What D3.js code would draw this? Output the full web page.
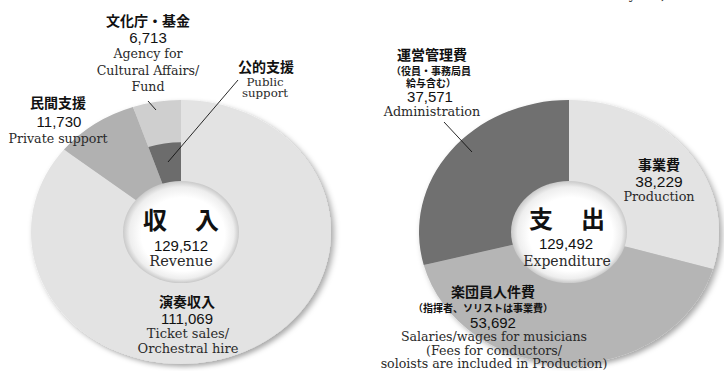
<!DOCTYPE html>
<html>
<head>
<meta charset="utf-8">
<script src="https://cdn.jsdelivr.net/npm/d3@7/dist/d3.min.js"></script>
<style>
  html, body { margin: 0; padding: 0; background: #fff; }
  svg { display: block; }
  .jp { font-family: "Noto Sans CJK JP", "Noto Sans", sans-serif; font-weight: 700; fill: #111; }
  .num { font-family: "Liberation Sans", Arial, sans-serif; fill: #111; }
  .en { font-family: "DejaVu Serif", "Liberation Serif", serif; fill: #2a2a2a; }
</style>
</head>
<body>
<svg id="chart" width="724" height="371"></svg>
<script>
// Revenue breakdown
const revenueCategories = ["演奏収入", "民間支援", "文化庁・基金"];
const revenueValues = [111069, 11730, 6713];
const revenueEnglish = [["Ticket sales/", "Orchestral hire"], ["Private support"], ["Agency for", "Cultural Affairs/", "Fund"]];

// Expenditure breakdown
const expenditureCategories = ["事業費", "楽団員人件費", "運営管理費"];
const expenditureValues = [38229, 53692, 37571];
const expenditureEnglish = [["Production"], ["Salaries/wages for musicians", "(Fees for conductors/", "soloists are included in Production)"], ["Administration"]];
const expenditureNotes = [[], ["（指揮者、ソリストは事業費）"], ["（役員・事務局員", "給与含む）"]];

const revenueColors = ["#e3e3e3", "#b1b1b1", "#cfcfcf"];
const expenditureColors = ["#e3e3e3", "#b5b5b5", "#6f6f6f"];
const publicSupportColor = "#6c6c6c";

const fmt = d3.format(",");
const svg = d3.select("#chart");
const defs = svg.append("defs");

const shadow = defs.append("filter").attr("id", "ringShadow")
  .attr("x", "-20%").attr("y", "-20%").attr("width", "140%").attr("height", "140%");
shadow.append("feDropShadow").attr("dx", 3).attr("dy", 3).attr("stdDeviation", 3)
  .attr("flood-color", "#000").attr("flood-opacity", 0.35);

const holeGrad = defs.append("radialGradient").attr("id", "holeGrad")
  .attr("cx", "50%").attr("cy", "50%").attr("r", "50%").attr("fx", "56%").attr("fy", "58%");
holeGrad.append("stop").attr("offset", "0%").attr("stop-color", "#ffffff");
holeGrad.append("stop").attr("offset", "72%").attr("stop-color", "#ffffff");
holeGrad.append("stop").attr("offset", "90%").attr("stop-color", "#eeeeee");
holeGrad.append("stop").attr("offset", "100%").attr("stop-color", "#c9c9c9");

const R = 150, r = 57, squash = 0.88;
const pie = d3.pie().sort(null).value(d => d);
const arc = d3.arc().innerRadius(r).outerRadius(R);

function donut(cx, cy, values, colors) {
  const g = svg.append("g").attr("transform", `translate(${cx},${cy}) scale(1,${squash})`);
  const arcs = pie(values);
  const ring = g.append("g").attr("filter", "url(#ringShadow)");
  ring.selectAll("path").data(arcs).join("path")
    .attr("d", arc).attr("fill", (d, i) => colors[i]);
  return { g, arcs };
}

function hole(g) {
  g.append("circle").attr("r", r + 1).attr("fill", "url(#holeGrad)");
}

function lines(x, y, arr, cls, size, lh) {
  const t = svg.append("text").attr("class", cls).attr("text-anchor", "middle")
    .attr("font-size", size);
  arr.forEach((s, i) => t.append("tspan").attr("x", x).attr("y", y + i * lh).text(s));
}

function leader(x1, y1, x2, y2) {
  svg.append("line").attr("x1", x1).attr("y1", y1).attr("x2", x2).attr("y2", y2)
    .attr("stroke", "#111").attr("stroke-width", 0.9);
}

// ---- Revenue donut ----
const left = donut(181, 232, revenueValues, revenueColors);
// public support shown as the inner part of the Agency/Fund slice
const fundArc = left.arcs[2];
left.g.append("path")
  .attr("d", d3.arc().innerRadius(r).outerRadius(102)(fundArc))
  .attr("fill", publicSupportColor);
hole(left.g);

// ---- Expenditure donut ----
const right = donut(569, 232, expenditureValues, expenditureColors);
hole(right.g);

// ---- Revenue labels ----
lines(148, 26, [revenueCategories[2]], "jp", 14, 0);
lines(148, 43, [fmt(revenueValues[2])], "num", 15, 0);
lines(148, 58, revenueEnglish[2], "en", 12.6, 16.5);
leader(148, 101, 156, 110);

lines(266, 72, ["公的支援"], "jp", 14, 0);
lines(265, 86, ["Public", "support"], "en", 11.8, 10.5);
leader(238, 80, 168, 162);

lines(58, 108, [revenueCategories[1]], "jp", 14, 0);
lines(59, 127, [fmt(revenueValues[1])], "num", 15, 0);
lines(58, 143, revenueEnglish[1], "en", 12.6, 0);

lines(187, 307, [revenueCategories[0]], "jp", 14, 0);
lines(187, 324, [fmt(revenueValues[0])], "num", 15, 0);
lines(188, 338, revenueEnglish[0], "en", 13, 15);

svg.append("text").attr("class", "jp").attr("x", 181).attr("y", 229)
  .attr("text-anchor", "middle").attr("font-size", 24).attr("letter-spacing", 28)
  .attr("dx", 14).text("収入");
lines(181, 251, [fmt(d3.sum(revenueValues))], "num", 15, 0);
lines(181, 266, ["Revenue"], "en", 14.5, 0);

// ---- Expenditure labels ----
lines(432, 60, [expenditureCategories[2]], "jp", 14, 0);
lines(431, 75, expenditureNotes[2], "jp", 10, 11.5);
lines(430, 102, [fmt(expenditureValues[2])], "num", 15, 0);
lines(432, 116, expenditureEnglish[2], "en", 12.8, 0);
leader(444, 122, 472, 152);

lines(659, 170, [expenditureCategories[0]], "jp", 14, 0);
lines(659, 187, [fmt(expenditureValues[0])], "num", 15.5, 0);
lines(659, 201, expenditureEnglish[0], "en", 12.8, 0);

lines(493, 297, [expenditureCategories[1]], "jp", 14, 0);
lines(483, 312, expenditureNotes[1], "jp", 10, 0);
lines(493, 328, [fmt(expenditureValues[1])], "num", 15, 0);
lines(494, 341, expenditureEnglish[1], "en", 12.6, 13.5);

svg.append("text").attr("class", "jp").attr("x", 567).attr("y", 228)
  .attr("text-anchor", "middle").attr("font-size", 24).attr("letter-spacing", 28)
  .attr("dx", 14).text("支出");
lines(566, 249, [fmt(d3.sum(expenditureValues))], "num", 15, 0);
lines(567, 266, ["Expenditure"], "en", 14, 0);

// unit note at the top edge
svg.append("text").attr("class", "en").attr("x", 690).attr("y", -1.5)
  .attr("text-anchor", "end").attr("font-size", 13).attr("fill", "#555")
  .text("Currency: ¥1,000");
</script>
</body>
</html>
